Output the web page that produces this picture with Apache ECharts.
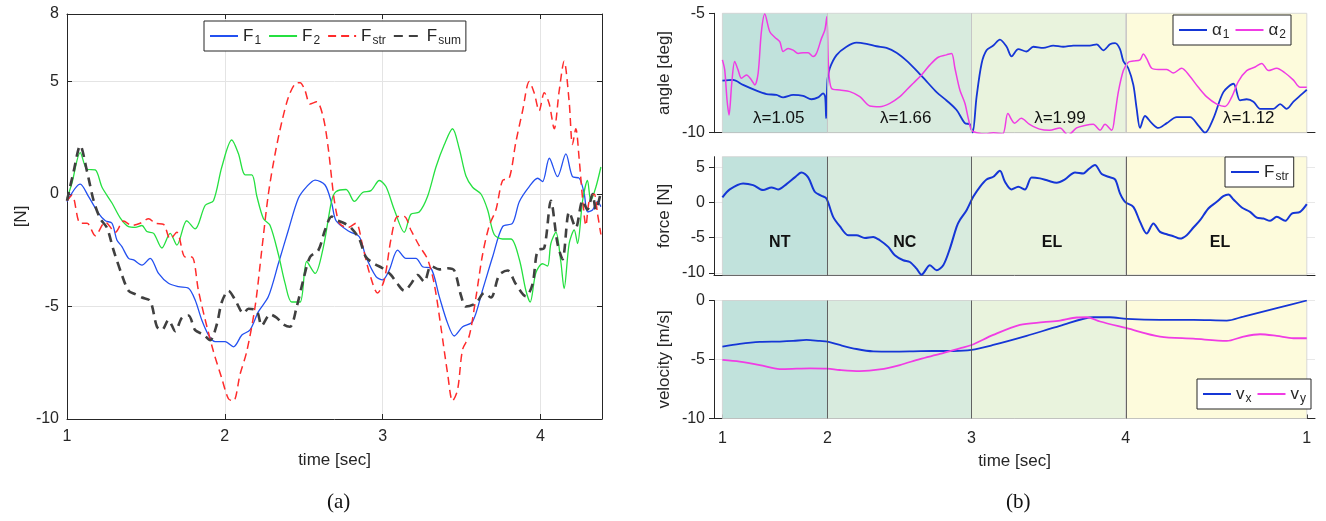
<!DOCTYPE html>
<html>
<head>
<meta charset="utf-8">
<script src="https://cdn.jsdelivr.net/npm/echarts@6/dist/echarts.min.js"></script>
<style>
  html, body { margin: 0; padding: 0; background: #fff; }
  #chart { width: 1326px; height: 521px; }
</style>
</head>
<body>
<div id="chart"></div>
<script>
  // ---- panel (a): forces vs time [sec] ----
  const leftTimeTicks = [1, 2, 3, 4];
  const leftForceTicks = [-10, -5, 0, 5, 8];

  const f1 = [[1.000,-0.34],[1.084,0.44],[1.137,-0.12],[1.200,-0.86],[1.243,-1.19],[1.285,-1.30],[1.316,-2.04],[1.348,-2.34],[1.390,-2.86],[1.422,-2.93],[1.475,-3.16],[1.527,-2.86],[1.580,-3.53],[1.643,-3.97],[1.707,-4.12],[1.770,-4.19],[1.812,-4.71],[1.854,-5.60],[1.897,-6.27],[1.939,-6.56],[2.002,-6.56],[2.055,-6.79],[2.108,-6.27],[2.160,-6.04],[2.213,-5.23],[2.276,-4.56],[2.340,-3.08],[2.403,-1.60],[2.466,-0.19],[2.519,0.33],[2.572,0.62],[2.635,0.40],[2.677,-0.41],[2.706,-1.20],[2.789,-1.67],[2.852,-1.90],[2.894,-2.79],[2.958,-3.67],[3.000,-3.82],[3.042,-3.38],[3.095,-2.49],[3.148,-2.86],[3.211,-2.86],[3.253,-3.23],[3.306,-3.30],[3.359,-4.56],[3.412,-5.75],[3.454,-6.31],[3.507,-5.90],[3.570,-5.67],[3.633,-4.27],[3.697,-2.79],[3.760,-1.45],[3.823,-1.30],[3.866,-0.34],[3.929,0.33],[3.982,0.70],[4.013,0.55],[4.056,1.59],[4.108,0.77],[4.161,1.78],[4.203,0.77],[4.246,0.70],[4.277,0.03],[4.298,-0.79],[4.330,-0.71],[4.362,-0.34],[4.383,-0.56]];
  const f2 = [[1.000,-0.20],[1.032,0.50],[1.084,1.84],[1.127,1.10],[1.179,1.07],[1.222,0.30],[1.285,-0.40],[1.338,-1.07],[1.390,-1.45],[1.432,-1.48],[1.475,-1.40],[1.506,-1.67],[1.549,-1.75],[1.601,-2.40],[1.654,-1.75],[1.696,-2.27],[1.759,-1.19],[1.812,-1.55],[1.876,-0.50],[1.928,-0.30],[1.981,1.20],[2.044,2.40],[2.086,1.80],[2.129,0.85],[2.171,0.85],[2.203,-0.10],[2.245,-1.10],[2.287,-1.40],[2.340,-2.70],[2.382,-3.97],[2.424,-4.80],[2.477,-4.80],[2.519,-3.00],[2.572,-3.53],[2.624,-2.37],[2.677,-0.30],[2.704,0.10],[2.768,0.20],[2.821,-0.33],[2.873,0.07],[2.926,0.15],[2.979,0.60],[3.021,0.33],[3.074,-0.70],[3.137,-1.70],[3.179,-0.90],[3.232,-0.80],[3.285,-0.10],[3.338,1.20],[3.391,2.20],[3.443,2.90],[3.486,2.00],[3.528,0.80],[3.570,0.30],[3.623,0.00],[3.665,-0.70],[3.707,-1.80],[3.760,-2.00],[3.813,-2.00],[3.866,-2.90],[3.908,-4.30],[3.935,-4.80],[3.971,-3.50],[4.013,-3.10],[4.045,-3.20],[4.066,-2.20],[4.098,-1.70],[4.129,-3.00],[4.150,-4.20],[4.182,-2.20],[4.214,-1.60],[4.235,-2.20],[4.267,-0.30],[4.298,0.60],[4.319,-0.30],[4.351,0.30],[4.383,1.20]];
  const fStr = [[1.000,-0.30],[1.032,-0.05],[1.084,-1.30],[1.127,-1.30],[1.179,-1.85],[1.243,-1.25],[1.306,-1.70],[1.359,-1.20],[1.411,-1.40],[1.464,-1.30],[1.517,-1.10],[1.559,-1.30],[1.612,-1.35],[1.654,-2.00],[1.696,-1.70],[1.749,-2.80],[1.791,-2.80],[1.833,-4.30],[1.876,-5.60],[1.928,-7.00],[1.981,-8.20],[2.023,-9.10],[2.055,-9.20],[2.097,-8.00],[2.139,-7.00],[2.192,-5.00],[2.234,-2.50],[2.276,0.00],[2.319,1.80],[2.361,3.20],[2.403,4.30],[2.445,4.90],[2.477,4.95],[2.508,4.60],[2.540,4.00],[2.582,4.10],[2.624,3.40],[2.656,2.00],[2.688,0.00],[2.709,-0.90],[2.726,-1.30],[2.778,-1.50],[2.831,-1.30],[2.873,-2.30],[2.916,-3.50],[2.968,-4.40],[3.011,-3.80],[3.053,-2.00],[3.095,-1.00],[3.137,-1.00],[3.179,-1.60],[3.232,-2.30],[3.285,-2.90],[3.327,-4.00],[3.369,-5.90],[3.412,-8.00],[3.443,-9.20],[3.475,-8.70],[3.507,-6.90],[3.549,-6.30],[3.591,-4.60],[3.633,-2.70],[3.676,-1.40],[3.718,-0.70],[3.760,0.60],[3.802,0.70],[3.844,2.30],[3.887,3.70],[3.929,5.00],[3.960,4.50],[3.992,3.70],[4.024,4.50],[4.056,4.00],[4.087,2.90],[4.119,4.60],[4.150,5.90],[4.182,4.10],[4.203,2.20],[4.224,2.90],[4.246,1.50],[4.267,-0.20],[4.288,-1.40],[4.309,-0.30],[4.340,0.00],[4.362,-0.90],[4.383,-1.80]];
  const fSum = [[1.000,-0.30],[1.042,1.00],[1.084,2.15],[1.127,1.00],[1.169,-0.30],[1.211,-1.10],[1.253,-1.50],[1.295,-2.50],[1.348,-3.60],[1.390,-4.30],[1.432,-4.45],[1.475,-4.60],[1.527,-4.75],[1.570,-5.90],[1.601,-6.05],[1.643,-5.60],[1.686,-6.10],[1.728,-5.50],[1.770,-5.40],[1.812,-6.05],[1.865,-6.25],[1.907,-6.50],[1.949,-5.80],[1.981,-4.80],[2.023,-4.30],[2.065,-4.70],[2.118,-5.30],[2.150,-5.10],[2.203,-5.20],[2.234,-5.85],[2.287,-5.35],[2.329,-5.50],[2.371,-5.80],[2.413,-5.90],[2.456,-5.00],[2.498,-3.80],[2.540,-2.80],[2.593,-2.50],[2.635,-1.60],[2.677,-1.00],[2.704,-1.15],[2.757,-1.30],[2.799,-1.50],[2.852,-2.00],[2.894,-2.80],[2.947,-3.10],[3.000,-3.30],[3.053,-3.60],[3.095,-4.00],[3.137,-4.30],[3.179,-4.00],[3.222,-3.60],[3.264,-3.90],[3.306,-3.20],[3.359,-3.35],[3.412,-3.30],[3.454,-3.40],[3.496,-4.50],[3.528,-5.00],[3.591,-4.85],[3.644,-4.40],[3.686,-4.60],[3.739,-3.60],[3.792,-3.40],[3.844,-4.00],[3.908,-4.55],[3.950,-4.00],[3.982,-2.50],[4.024,-2.40],[4.066,-0.30],[4.108,-2.20],[4.140,-2.90],[4.182,-0.80],[4.224,-1.50],[4.267,-0.30],[4.298,-0.70],[4.330,0.00],[4.351,-0.70],[4.383,0.10]];

  // ---- panel (b): four phases laid end to end ----
  const segEdges = [0, 1.0, 2.371, 3.838, 5.562];
  const segTickLabels = ['1', '2', '3', '4', '1'];
  const lambdaText = ['λ=1.05', 'λ=1.66', 'λ=1.99', 'λ=1.12'];
  const phaseText = ['NT', 'NC', 'EL', 'EL'];
  const forceTicks = [-10, -5, 0, 5];

  const alpha1 = [[0,-7.82],[0.10,-7.79],[0.197,-8.0],[0.324,-8.24],[0.419,-8.38],[0.514,-8.42],[0.578,-8.52],[0.673,-8.42],[0.768,-8.46],[0.848,-8.6],[0.911,-8.52],[0.959,-8.35],[0.978,-8.5],[0.987,-9.4],[1.0,-7.8],[1.022,-7.3],[1.086,-6.75],[1.181,-6.4],[1.276,-6.23],[1.371,-6.28],[1.467,-6.38],[1.562,-6.45],[1.657,-6.65],[1.752,-6.98],[1.848,-7.4],[1.943,-7.85],[2.038,-8.3],[2.133,-8.65],[2.229,-9.05],[2.308,-9.6],[2.356,-9.65],[2.381,-10.0],[2.419,-8.5],[2.467,-7.1],[2.514,-6.55],[2.578,-6.35],[2.641,-6.1],[2.705,-6.4],[2.752,-6.8],[2.816,-6.5],[2.895,-6.6],[2.959,-6.4],[3.054,-6.45],[3.149,-6.35],[3.244,-6.4],[3.340,-6.35],[3.435,-6.35],[3.498,-6.35],[3.562,-6.3],[3.625,-6.55],[3.689,-6.3],[3.737,-6.25],[3.784,-6.5],[3.816,-7.0],[3.863,-7.3],[3.911,-8.0],[3.943,-9.0],[3.975,-9.8],[4.022,-9.3],[4.086,-9.6],[4.149,-9.8],[4.229,-9.6],[4.324,-9.35],[4.451,-9.35],[4.530,-9.7],[4.594,-10.0],[4.673,-9.4],[4.768,-8.3],[4.864,-7.95],[4.927,-8.65],[4.990,-8.6],[5.054,-8.7],[5.117,-9.0],[5.181,-9.0],[5.244,-9.0],[5.308,-8.8],[5.371,-9.0],[5.435,-8.7],[5.498,-8.45],[5.562,-8.2]];
  const alpha2 = [[0,-6.95],[0.022,-7.37],[0.044,-8.63],[0.063,-9.26],[0.089,-7.93],[0.117,-7.02],[0.149,-7.37],[0.181,-7.72],[0.229,-7.58],[0.276,-7.79],[0.308,-8.0],[0.340,-7.51],[0.371,-5.77],[0.403,-5.03],[0.451,-5.77],[0.498,-6.0],[0.546,-6.19],[0.578,-6.6],[0.625,-6.47],[0.673,-6.54],[0.721,-6.68],[0.768,-6.65],[0.816,-6.65],[0.863,-6.81],[0.895,-6.68],[0.943,-6.05],[0.975,-5.7],[0.994,-5.14],[1.010,-7.23],[1.038,-8.14],[1.117,-8.21],[1.213,-8.28],[1.308,-8.49],[1.403,-8.88],[1.498,-8.91],[1.594,-8.77],[1.689,-8.49],[1.752,-8.21],[1.816,-7.93],[1.895,-7.58],[1.975,-7.16],[2.054,-6.84],[2.133,-6.74],[2.181,-6.68],[2.213,-7.3],[2.260,-8.21],[2.308,-8.77],[2.340,-9.4],[2.371,-9.89],[2.419,-10.0],[2.514,-10.05],[2.578,-10.0],[2.667,-10.05],[2.717,-9.2],[2.781,-9.6],[2.844,-9.4],[2.924,-9.65],[3.019,-9.85],[3.114,-9.9],[3.213,-9.8],[3.289,-10.1],[3.371,-9.8],[3.449,-9.7],[3.530,-9.65],[3.594,-9.9],[3.641,-9.65],[3.705,-9.9],[3.737,-9.2],[3.768,-8.3],[3.816,-7.4],[3.863,-7.05],[3.911,-7.0],[3.975,-6.95],[4.006,-6.7],[4.038,-6.9],[4.086,-7.3],[4.149,-7.35],[4.229,-7.35],[4.292,-7.5],[4.371,-7.3],[4.451,-7.65],[4.530,-8.1],[4.610,-8.5],[4.705,-8.8],[4.784,-8.9],[4.848,-8.5],[4.911,-7.85],[4.990,-7.4],[5.070,-7.25],[5.133,-7.1],[5.197,-7.4],[5.276,-7.3],[5.356,-7.5],[5.435,-7.8],[5.498,-8.1],[5.562,-8.1]];
  const forceStr = [[0,0.71],[0.070,1.85],[0.197,2.71],[0.292,2.47],[0.387,1.76],[0.467,2.14],[0.530,1.85],[0.610,2.61],[0.689,3.56],[0.752,4.27],[0.816,3.56],[0.879,1.52],[0.943,0.95],[0.990,0.57],[1.054,-2.04],[1.117,-3.37],[1.197,-4.65],[1.276,-4.65],[1.356,-5.03],[1.435,-4.89],[1.498,-5.36],[1.578,-6.31],[1.641,-7.5],[1.721,-8.21],[1.784,-8.45],[1.848,-9.4],[1.895,-10.25],[1.975,-8.92],[2.038,-9.63],[2.102,-8.92],[2.165,-6.55],[2.229,-3.46],[2.260,-2.5],[2.324,-1.1],[2.387,0.8],[2.451,2.23],[2.514,3.27],[2.578,3.65],[2.641,4.5],[2.689,2.94],[2.752,1.85],[2.816,2.23],[2.879,1.85],[2.943,3.56],[3.022,3.42],[3.102,3.08],[3.181,2.8],[3.260,3.27],[3.356,4.27],[3.435,4.13],[3.483,4.7],[3.546,5.32],[3.610,4.03],[3.673,3.65],[3.737,3.27],[3.784,1.28],[3.832,0.09],[3.911,-0.62],[3.975,-2.75],[4.038,-4.41],[4.102,-2.99],[4.165,-4.18],[4.229,-4.51],[4.292,-4.79],[4.356,-5.13],[4.419,-4.65],[4.483,-3.56],[4.546,-2.52],[4.625,-0.85],[4.705,0.09],[4.768,0.9],[4.816,1.14],[4.864,0.43],[4.943,-0.71],[5.022,-1.33],[5.086,-2.14],[5.149,-2.28],[5.213,-2.61],[5.276,-2.04],[5.356,-2.61],[5.419,-1.57],[5.498,-1.33],[5.562,-0.24]];
  const velX = [[0,-3.91],[0.165,-3.68],[0.356,-3.51],[0.546,-3.48],[0.673,-3.43],[0.800,-3.34],[0.927,-3.43],[1.0,-3.48],[1.117,-3.77],[1.276,-4.11],[1.435,-4.31],[1.625,-4.33],[1.816,-4.31],[2.006,-4.28],[2.197,-4.28],[2.371,-4.19],[2.578,-3.77],[2.895,-3.0],[3.213,-2.15],[3.530,-1.42],[3.689,-1.42],[3.848,-1.56],[4.165,-1.64],[4.483,-1.64],[4.800,-1.7],[4.959,-1.36],[5.276,-0.65],[5.562,0]];
  const velY = [[0,-5.04],[0.165,-5.18],[0.356,-5.47],[0.546,-5.81],[0.705,-5.78],[0.832,-5.75],[1.0,-5.78],[1.117,-5.89],[1.308,-5.98],[1.498,-5.84],[1.689,-5.47],[1.879,-4.96],[2.070,-4.53],[2.260,-4.05],[2.371,-3.77],[2.578,-2.92],[2.832,-2.07],[3.054,-1.84],[3.213,-1.7],[3.371,-1.44],[3.467,-1.42],[3.594,-1.78],[3.848,-2.35],[4.165,-3.06],[4.483,-3.23],[4.800,-3.43],[4.959,-3.06],[5.117,-2.86],[5.276,-3.0],[5.435,-3.2],[5.562,-3.2]];

  // where the in-plot notes sit (data coords)
  const lambdaSpots = [[0.536, -9.38], [1.745, -9.38], [3.212, -9.38], [5.01, -9.38]];
  const phaseSpots = [[0.546, -5.68], [1.736, -5.68], [3.137, -5.68], [4.736, -5.68]];

  const FONT = '"Liberation Sans", Arial, Helvetica, sans-serif';
  const INK = '#262626';
  const GRID_LINE = '#e4e4e4';
  const BLUE = '#1536d6';
  const MAGENTA = '#f03ce4';
  const segColors = ['#c1e2dc', '#d8ebde', '#e9f3dd', '#fdfbdc'];

  const legendRich = {
    F1: '{m|F}{s|1}', F2: '{m|F}{s|2}', Fstr: '{m|F}{s|str}', Fsum: '{m|F}{s|sum}',
    'α1': '{m|α}{s|1}', 'α2': '{m|α}{s|2}', 'F_str': '{m|F}{s|str}', vx: '{m|v}{s|x}', vy: '{m|v}{s|y}'
  };
  const richStyle = {
    m: { fontSize: 17, fontFamily: FONT, color: INK, lineHeight: 24 },
    s: { fontSize: 12, fontFamily: FONT, color: INK, lineHeight: 24, padding: [10, 0, 0, 1] }
  };

  function makeLegend(names, left, top, gap) {
    return {
      data: names, left: left, top: top, orient: 'horizontal',
      padding: [4, 5, 4, 5], itemGap: gap, itemWidth: 28, itemHeight: 14,
      borderColor: INK, borderWidth: 1, backgroundColor: '#fff',
      selectedMode: false,
      itemStyle: { color: 'rgba(0,0,0,0)', borderWidth: 0 },
      formatter: n => legendRich[n],
      textStyle: { color: INK, fontFamily: FONT, fontSize: 17, rich: richStyle }
    };
  }

  const nameStyle = { color: INK, fontFamily: FONT, fontSize: 17 };
  const labelStyle = { color: INK, fontFamily: FONT, fontSize: 16 };

  // grid 0 owns xAxis/yAxis 0 and 1; right grids g = 1..3 use axis index g + 1
  const ax = g => g + 1;

  function rightX(gi, withLabels) {
    return {
      type: 'value', gridIndex: gi, min: -0.08, max: 5.64,
      axisLine: { show: true, onZero: false, lineStyle: { color: INK, width: 1 } },
      axisTick: { show: withLabels, inside: true, length: 4, customValues: segEdges, lineStyle: { color: INK } },
      axisLabel: {
        show: withLabels, customValues: segEdges, margin: 12, ...labelStyle,
        formatter: v => {
          let k = 0;
          segEdges.forEach((e, i) => { if (Math.abs(e - v) < Math.abs(segEdges[k] - v)) k = i; });
          return segTickLabels[k];
        }
      },
      splitLine: { show: false },
      name: withLabels ? 'time [sec]' : '', nameLocation: 'middle', nameGap: 34, nameTextStyle: nameStyle
    };
  }

  function rightY(gi, min, max, ticks, name, showSplit) {
    return {
      type: 'value', gridIndex: gi, min: min, max: max,
      axisLine: { show: true, onZero: false, lineStyle: { color: INK, width: 1 } },
      axisTick: { show: true, inside: false, length: 5, customValues: ticks, lineStyle: { color: INK } },
      axisLabel: { customValues: ticks, margin: 9, ...labelStyle },
      splitLine: { show: showSplit, lineStyle: { color: 'rgba(0,0,0,0.09)', width: 1 } },
      name: name, nameLocation: 'middle', nameGap: 41, nameTextStyle: nameStyle
    };
  }

  function backdrop(g, boundaryColor) {
    return {
      type: 'line', xAxisIndex: ax(g), yAxisIndex: ax(g), data: [], z: 1, silent: true,
      markArea: {
        silent: true,
        data: segColors.map((c, i) => [
          { xAxis: segEdges[i], itemStyle: { color: c, borderColor: '#cfcfcf', borderWidth: 0.8 } },
          { xAxis: segEdges[i + 1] }
        ])
      },
      markLine: {
        silent: true, symbol: ['none', 'none'], label: { show: false },
        lineStyle: { color: boundaryColor, width: 0.9, type: 'solid' },
        data: segEdges.slice(1, 4).map(e => ({ xAxis: e }))
      }
    };
  }

  function curve(name, data, xi, yi, color, width, dash) {
    return {
      name: name, type: 'line', xAxisIndex: xi, yAxisIndex: yi, data: data,
      symbol: 'none', smooth: 0.3, z: 3, silent: true,
      lineStyle: { color: color, width: width, type: dash || 'solid' },
      itemStyle: { color: color }
    };
  }

  function notes(g, spots, texts, bold) {
    return {
      type: 'scatter', xAxisIndex: ax(g), yAxisIndex: ax(g), data: spots, symbolSize: 1, z: 5, silent: true,
      itemStyle: { color: 'rgba(0,0,0,0)', opacity: 1 },
      label: {
        show: true, position: 'inside', formatter: p => texts[p.dataIndex], opacity: 1,
        color: '#111', textBorderWidth: 0, fontFamily: FONT,
        fontSize: bold ? 16 : 17, fontWeight: bold ? 'bold' : 'normal'
      }
    };
  }

  const chart = echarts.init(document.getElementById('chart'), null, { renderer: 'canvas' });
  const option = {
    animation: false,
    backgroundColor: '#fff',
    grid: [
      { left: 67, top: 14, width: 535, height: 405 },
      { left: 714, top: 13.3, width: 601, height: 119.4 },
      { left: 714, top: 156.7, width: 601, height: 118.3 },
      { left: 714, top: 300.5, width: 601, height: 118 }
    ],
    xAxis: [
      {
        type: 'value', gridIndex: 0, min: 1, max: 4.39, interval: 1, position: 'bottom',
        axisLine: { onZero: false, lineStyle: { color: INK } },
        axisTick: { inside: true, length: 5, customValues: leftTimeTicks, lineStyle: { color: INK } },
        axisLabel: { customValues: leftTimeTicks, margin: 10, ...labelStyle },
        splitLine: { show: true, lineStyle: { color: GRID_LINE } },
        name: 'time [sec]', nameLocation: 'middle', nameGap: 33, nameTextStyle: nameStyle
      },
      {
        type: 'value', gridIndex: 0, min: 1, max: 4.39, interval: 1, position: 'top',
        axisLine: { onZero: false, lineStyle: { color: INK } },
        axisTick: { inside: true, length: 5, customValues: leftTimeTicks, lineStyle: { color: INK } },
        axisLabel: { show: false }, splitLine: { show: false }
      },
      rightX(1, false), rightX(2, false), rightX(3, true)
    ],
    yAxis: [
      {
        type: 'value', gridIndex: 0, min: -10, max: 8, interval: 5, position: 'left',
        axisLine: { show: true, onZero: false, lineStyle: { color: INK } },
        axisTick: { show: true, inside: true, length: 5, customValues: leftForceTicks, lineStyle: { color: INK } },
        axisLabel: { customValues: leftForceTicks, margin: 8, ...labelStyle },
        splitLine: { show: true, lineStyle: { color: GRID_LINE } },
        name: '[N]', nameLocation: 'middle', nameGap: 37, nameTextStyle: nameStyle
      },
      {
        type: 'value', gridIndex: 0, min: -10, max: 8, interval: 5, position: 'right',
        axisLine: { show: true, onZero: false, lineStyle: { color: INK } },
        axisTick: { show: true, inside: true, length: 5, customValues: leftForceTicks, lineStyle: { color: INK } },
        axisLabel: { show: false }, splitLine: { show: false }
      },
      rightY(1, -10, -5, [-10, -5], 'angle [deg]', false),
      rightY(2, -10.3, 6.5, forceTicks, 'force [N]', true),
      rightY(3, -10, 0, [-10, -5, 0], 'velocity [m/s]', true)
    ],
    legend: [
      makeLegend(['F1', 'F2', 'Fstr', 'Fsum'], 204, 21, 7),
      makeLegend(['α1', 'α2'], 1173, 15, 5),
      makeLegend(['F_str'], 1225, 157, 5),
      makeLegend(['vx', 'vy'], 1197, 379, 5)
    ],
    graphic: [
      { type: 'text', left: 327, top: 492, style: { text: '(a)', font: '21px "Liberation Serif", "Times New Roman", serif', fill: '#111' } },
      { type: 'text', left: 1006, top: 492, style: { text: '(b)', font: '21px "Liberation Serif", "Times New Roman", serif', fill: '#111' } }
    ],
    series: [
      curve('F1', f1, 0, 0, '#2350f0', 1.3),
      curve('F2', f2, 0, 0, '#25e040', 1.3),
      curve('Fstr', fStr, 0, 0, '#ff2b2b', 1.5, [8, 5]),
      curve('Fsum', fSum, 0, 0, '#404040', 2.6, [9, 6]),

      backdrop(1, '#c4c4c4'),
      curve('α1', alpha1, ax(1), ax(1), BLUE, 1.8),
      curve('α2', alpha2, ax(1), ax(1), MAGENTA, 1.5),
      notes(1, lambdaSpots, lambdaText, false),

      backdrop(2, '#555555'),
      curve('F_str', forceStr, ax(2), ax(2), BLUE, 2),
      notes(2, phaseSpots, phaseText, true),

      backdrop(3, '#555555'),
      curve('vx', velX, ax(3), ax(3), BLUE, 1.8),
      curve('vy', velY, ax(3), ax(3), MAGENTA, 1.8)
    ]
  };
  chart.setOption(option);
</script>
</body>
</html>
